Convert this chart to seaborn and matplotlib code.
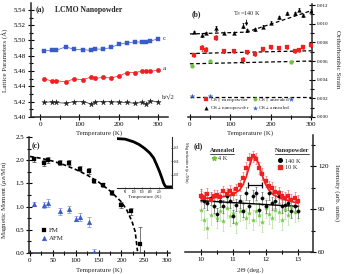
import matplotlib
matplotlib.use("Agg")
import matplotlib.pyplot as plt
from matplotlib.ticker import MultipleLocator
from matplotlib.lines import Line2D
import seaborn as sns

# ---------------- (a) lattice parameters ----------------
temp_a = [10, 30, 40, 65, 85, 110, 130, 140, 160, 180, 200, 220, 240, 260, 270, 280, 300]
lat_c = [5.4865, 5.4870, 5.4870, 5.4917, 5.4887, 5.4880, 5.4870, 5.4890, 5.4885, 5.4910,
         5.4950, 5.4970, 5.4980, 5.4980, 5.4982, 5.4995, 5.5020]
lat_a = [5.4500, 5.4470, 5.4474, 5.4460, 5.4496, 5.4490, 5.4522, 5.4504, 5.4517, 5.4510,
         5.4535, 5.4580, 5.4580, 5.4600, 5.4600, 5.4596, 5.4613]
lat_b = [5.4190, 5.4200, 5.4190, 5.4180, 5.4200, 5.4200, 5.4170, 5.4200, 5.4200, 5.4200,
         5.4195, 5.4190, 5.4180, 5.4190, 5.4170, 5.4210, 5.4200]

# ---------------- (b) orthorhombic strain ----------------
os_par = [0.0066, 0.0074, 0.0072, 0.0085, 0.0071, 0.0071, 0.0061, 0.0070, 0.0067, 0.0073,
          0.0075, 0.0074, 0.0075, 0.0071, 0.0072, 0.0075, 0.0077]
os_par_err = [0.0002, 0.0003, 0.0003, 0.0003, 0.0002, 0.0002, 0.0003, 0.0002, 0.0002, 0.0002,
              0.0002, 0.0002, 0.0002, 0.0002, 0.0002, 0.0002, 0.0002]
os_perp = [0.0091, 0.0088, 0.0090, 0.0095, 0.0090, 0.0090, 0.0098, 0.0093, 0.0094, 0.0097,
           0.0101, 0.0107, 0.0111, 0.0111, 0.0115, 0.0109, 0.0114]
os_perp_err = [0.00015, 0.0002, 0.00015, 0.0003, 0.00015, 0.00015, 0.0003, 0.00015, 0.00015,
               0.00015, 0.00015, 0.00015, 0.00015, 0.00015, 0.00015, 0.00015, 0.00015]
temp_ann = [5, 50, 250]
os_par_ann = [0.0055, 0.0060, 0.0059]
os_perp_ann = [0.0023, 0.0023, 0.0019]
fit_perp_t = [0, 140, 300]
fit_perp = [0.0089, 0.0091, 0.0114]
fit_par_t = [0, 300]
fit_par = [0.0068, 0.0071]
fit_par_ann = [0.0057, 0.0060]
fit_perp_ann = [0.0021, 0.0021]

# ---------------- (c) magnetic moment ----------------
temp_fm = [10, 30, 40, 65, 85, 110, 130, 140, 160, 180, 200, 220, 240]
mom_fm = [2.02, 1.94, 2.01, 1.95, 1.95, 1.82, 1.77, 1.55, 1.47, 1.30, 1.04, 0.90, 0.20]
err_fm = [0.05, 0.07, 0.06, 0.06, 0.06, 0.06, 0.07, 0.04, 0.04, 0.05, 0.06, 0.08, 0.35]
temp_afm = [10, 30, 40, 65, 85, 100, 110, 130, 140]
mom_afm = [1.05, 1.03, 1.08, 0.90, 0.94, 0.74, 0.78, 0.66, 0.02]
err_afm = [0.04, 0.06, 0.08, 0.08, 0.07, 0.06, 0.08, 0.11, 0.06]
fit_c_t = [0, 25, 50, 75, 100, 125, 150, 175, 200, 212, 223, 230, 235]
fit_c_m = [2.08, 2.04, 1.98, 1.90, 1.80, 1.68, 1.53, 1.34, 1.10, 0.92, 0.68, 0.46, 0.04]
inset_t = [0, 50, 100, 133, 165, 196, 220, 238, 255, 269, 280, 290, 300, 330]
inset_m = [0.184, 0.182, 0.172, 0.162, 0.148, 0.131, 0.112, 0.087, 0.062, 0.038, 0.018,
           0.006, 0.004, 0.004]

# ---------------- (d) neutron intensity ----------------
two_theta = [10.0, 10.1, 10.2, 10.3, 10.4, 10.5, 10.6, 10.7, 10.8, 10.9, 11.0, 11.1, 11.2,
             11.3, 11.4, 11.5, 11.6, 11.7, 11.8, 11.9, 12.0, 12.1, 12.2, 12.3, 12.4, 12.5,
             12.6, 12.7, 12.8, 12.9, 13.0]
int_10k = [99.0, 97.8, 100.6, 96.7, 99.5, 99.7, 98.3, 102.5, 101.0, 103.0, 100.6, 104.0,
           106.7, 111.8, 118.8, 125.4, 127.0, 125.4, 118.8, 114.6, 109.5, 106.0, 104.8,
           102.0, 101.3, 99.0, 97.8, 99.5, 96.7, 97.8, 96.0]
int_140k = [100.0, 95.5, 94.3, 97.8, 92.0, 86.6, 96.0, 92.0, 99.0, 95.5, 85.0, 93.0, 95.5,
            89.0, 101.3, 92.0, 99.0, 101.3, 89.6, 97.8, 92.0, 101.3, 94.3, 95.5, 99.0, 92.0,
            93.0, 94.3, 88.5, 92.0, 88.5]
int_4k = [89.6, 82.6, 76.8, 86.0, 92.0, 83.8, 89.0, 81.5, 90.8, 85.0, 87.3, 80.3, 88.5,
          89.6, 83.8, 87.3, 82.6, 89.0, 86.0, 81.0, 90.8, 86.6, 83.8, 89.6, 88.0, 82.6,
          90.3, 86.0, 91.3, 88.0, 88.5]
fit_10k_x = [10.0, 10.5, 10.8, 11.0, 11.2, 11.3, 11.4, 11.5, 11.6, 11.65, 11.7, 11.8, 11.9,
             12.0, 12.1, 12.25, 12.5, 13.0]
fit_10k = [97.4, 98.3, 99.3, 100.5, 103.5, 107.0, 112.5, 120.0, 127.0, 127.7, 126.5, 121.0,
           113.5, 107.5, 103.5, 100.0, 97.3, 94.3]
fit_140k_x = [10.0, 13.0]
fit_140k = [96.0, 92.0]
resolution = [11.45, 11.9]

RED = "#ee2020"
BLUE = "#3a5cc8"
GREEN = "#6cc83a"

sns.set_theme(style="ticks")
plt.rcParams["font.family"] = ["Liberation Serif", "DejaVu Serif"]
plt.rcParams["mathtext.fontset"] = "stix"
FS = 5


def style(ax, right=False):
    ax.set_facecolor("none")
    ax.spines["top"].set_visible(False)
    if right:
        ax.spines["left"].set_visible(False)
        ax.yaxis.tick_right()
        ax.yaxis.set_label_position("right")
    else:
        ax.spines["right"].set_visible(False)
    for s in ax.spines.values():
        s.set_linewidth(1.1)
    ax.tick_params(which="both", direction="inout", width=0.8, labelsize=FS, pad=1.5,
                   colors="black")
    ax.tick_params(which="major", length=4)
    ax.tick_params(which="minor", length=2.5)


def errs(ax, x, y, e, c, cap=1.2):
    ax.errorbar(x, y, yerr=e, fmt="none", ecolor=c, elinewidth=0.5, capsize=cap,
                capthick=0.5, zorder=2)


def line(ax, x, y, color, lw, ls="-"):
    ax.plot(x, y, color=color, lw=lw, linestyle=ls, zorder=2.5)


DASH = (0, (3, 2))

fig = plt.figure(figsize=(3.46, 2.74), dpi=100)

# ---- panel (a)
ax = fig.add_axes([0.0896, 0.573, 0.396, 0.416])
style(ax)
for vals, col, mk, sz in [(lat_c, BLUE, "s", 9), (lat_a, RED, "o", 10), (lat_b, "#222222", "*", 16)]:
    line(ax, temp_a, vals, col, 0.5)
    sns.scatterplot(x=temp_a, y=vals, ax=ax, color=col, marker=mk, s=sz, edgecolor=col,
                    linewidth=0.3, zorder=3)
ax.set_xlim(-23, 325)
ax.set_ylim(5.40, 5.549)
ax.xaxis.set_major_locator(MultipleLocator(100))
ax.xaxis.set_minor_locator(MultipleLocator(50))
ax.set_yticks([5.40, 5.42, 5.44, 5.46, 5.48, 5.50, 5.52, 5.54])
ax.set_yticklabels(["5.40", "5.42", "5.44", "5.46", "5.48", "5.50", "5.52", "5.54"])
ax.yaxis.set_minor_locator(MultipleLocator(0.01))
ax.set_xlabel("Temperature (K)", fontsize=FS)
ax.set_ylabel("Lattice Parameters (Å)", fontsize=FS)
ax.xaxis.set_label_coords(0.5, -0.115)
ax.yaxis.set_label_coords(-0.17, 0.5)
ax.text(0, 5.54, "(a)", fontsize=5.5, fontweight="bold", ha="center", va="center")
ax.text(38, 5.54, "LCMO Nanopowder", fontsize=5.5, fontweight="bold", ha="left", va="center")
ax.text(311, 5.503, "c", fontsize=FS, ha="left", va="center")
ax.text(311, 5.464, "a", fontsize=FS, ha="left", va="center")
ax.text(309, 5.426, "b/√2", fontsize=FS, ha="left", va="center")

# ---- panel (b)
ax = fig.add_axes([0.543, 0.573, 0.358, 0.412])
style(ax, right=True)
line(ax, fit_perp_t, fit_perp, "black", 0.9, DASH)
line(ax, fit_par_t, fit_par, "black", 0.9, DASH)
line(ax, fit_par_t, fit_par_ann, "black", 0.9, DASH)
line(ax, fit_par_t, fit_perp_ann, "black", 0.9, DASH)
errs(ax, temp_a, os_par, os_par_err, RED, cap=1.0)
errs(ax, temp_a, os_perp, os_perp_err, "black", cap=1.0)
sns.scatterplot(x=temp_a, y=os_par, ax=ax, color=RED, marker="s", s=7, edgecolor=RED,
                linewidth=0.2, zorder=3, label=r"OS$_{\parallel}$ nanopowder")
sns.scatterplot(x=temp_a, y=os_perp, ax=ax, color="black", marker="^", s=8, edgecolor="black",
                linewidth=0.2, zorder=3, label=r"OS$_{\perp}$ nanopowder")
sns.scatterplot(x=temp_ann, y=os_par_ann, ax=ax, color=GREEN, marker="o", s=8, edgecolor=GREEN,
                linewidth=0.2, zorder=3, label=r"OS$_{\parallel}$ annealed")
sns.scatterplot(x=temp_ann, y=os_perp_ann, ax=ax, color=BLUE, marker="*", s=12, edgecolor=BLUE,
                linewidth=0.2, zorder=3, label=r"OS$_{\perp}$ annealed")
ax.set_xlim(-5, 301)
ax.set_ylim(0, 0.0121)
ax.xaxis.set_major_locator(MultipleLocator(100))
ax.xaxis.set_minor_locator(MultipleLocator(50))
ax.set_yticks([0, 0.002, 0.004, 0.006, 0.008, 0.010, 0.012])
ax.set_yticklabels(["0.000", "0.002", "0.004", "0.006", "0.008", "0.010", "0.012"], fontsize=3.6)
ax.yaxis.set_minor_locator(MultipleLocator(0.001))
ax.set_xlabel("Temperature (K)", fontsize=FS)
ax.set_ylabel("Orthorhombic Strain", fontsize=FS, rotation=270)
ax.xaxis.set_label_coords(0.5, -0.12)
ax.yaxis.set_label_coords(1.225, 0.51)
ax.text(17, 0.0110, "(b)", fontsize=5.5, fontweight="bold", ha="center", va="center")
ax.text(140, 0.01105, r"T$_N$=140 K", fontsize=4.5, ha="center", va="center")
ax.annotate("", xy=(140, 0.00945), xytext=(140, 0.0107),
            arrowprops=dict(arrowstyle="-|>", lw=0.6, color="black", mutation_scale=4))
ax.legend(ncol=2, fontsize=3.8, frameon=False, loc="center", bbox_to_anchor=(0.48, 0.115),
          handletextpad=0.1, columnspacing=0.6, labelspacing=0.1, markerscale=0.9,
          borderpad=0.1, handlelength=1.0)

# ---- panel (c)
ax = fig.add_axes([0.0838, 0.0766, 0.4075, 0.4234])
style(ax)
line(ax, fit_c_t, fit_c_m, "black", 1.2, (0, (2.5, 1.5)))
errs(ax, temp_fm, mom_fm, err_fm, "#444444")
errs(ax, temp_afm, mom_afm, err_afm, "#7a90d8")
sns.scatterplot(x=temp_fm, y=mom_fm, ax=ax, color="black", marker="s", s=11, edgecolor="black",
                linewidth=0.2, zorder=3, label="FM")
sns.scatterplot(x=temp_afm, y=mom_afm, ax=ax, color=BLUE, marker="^", s=12, edgecolor=BLUE,
                linewidth=0.2, zorder=3, label="AFM")
ax.set_xlim(-2, 306)
ax.set_ylim(0, 2.5)
ax.xaxis.set_major_locator(MultipleLocator(50))
ax.xaxis.set_minor_locator(MultipleLocator(25))
ax.yaxis.set_major_locator(MultipleLocator(0.5))
ax.yaxis.set_minor_locator(MultipleLocator(0.25))
ax.set_xlabel("Temperature (K)", fontsize=FS)
ax.set_ylabel(r"Magnetic Moment ($\mu_B$/Mn)", fontsize=FS)
ax.xaxis.set_label_coords(0.5, -0.125)
ax.yaxis.set_label_coords(-0.14, 0.46)
ax.text(12, 2.31, "(c)", fontsize=5.5, fontweight="bold", ha="center", va="center")
ax.legend(fontsize=FS, frameon=False, loc="center left", bbox_to_anchor=(0.05, 0.165),
          handletextpad=0.2, labelspacing=0.3, borderpad=0.1, handlelength=1.0)

# inset
ins = fig.add_axes([0.338, 0.314, 0.159, 0.186])
style(ins, right=True)
ins.spines["left"].set_visible(False)
for s in ins.spines.values():
    s.set_linewidth(0.8)
line(ins, inset_t, inset_m, "black", 2.0)
ins.set_xlim(0, 330)
ins.set_ylim(0, 0.19)
ins.set_xticks([50, 100, 150, 200, 250])
ins.set_yticks([0.05, 0.10, 0.15])
ins.tick_params(which="both", labelsize=2.2, length=1.5, width=0.4, pad=0.6)
ins.set_xlabel("Temperature (K)", fontsize=3.6, labelpad=0.5)
ins.set_ylabel(r"Magnetization ($\mu_B$/Mn)", fontsize=3.2, rotation=270)
ins.yaxis.set_label_coords(1.32, 0.5)

# ---- panel (d)
ax = fig.add_axes([0.535, 0.080, 0.37, 0.427])
style(ax, right=True)
errs(ax, two_theta, int_4k, 7.0, "#b5e0a0", cap=0.8)
errs(ax, two_theta, int_140k, 4.5, "#666666", cap=0.8)
errs(ax, two_theta, int_10k, 4.0, "#f07070", cap=0.8)
sns.scatterplot(x=two_theta, y=int_4k, ax=ax, color=GREEN, marker="*", s=10, edgecolor=GREEN,
                linewidth=0.2, zorder=3)
sns.scatterplot(x=two_theta, y=int_140k, ax=ax, color="black", marker="o", s=6,
                edgecolor="black", linewidth=0.2, zorder=3)
sns.scatterplot(x=two_theta, y=int_10k, ax=ax, color=RED, marker="s", s=6, edgecolor=RED,
                linewidth=0.2, zorder=3)
line(ax, fit_140k_x, fit_140k, "black", 1.0)
line(ax, fit_10k_x, fit_10k, RED, 1.2)
ax.errorbar([sum(resolution) / 2], [107], xerr=[(resolution[1] - resolution[0]) / 2],
            fmt="none", ecolor="black", elinewidth=0.9, capsize=2, capthick=0.9, zorder=4)
ax.set_xlim(9.514, 13.47)
ax.set_ylim(60, 142)
ax.xaxis.set_major_locator(MultipleLocator(1))
ax.xaxis.set_minor_locator(MultipleLocator(0.5))
ax.yaxis.set_major_locator(MultipleLocator(30))
ax.yaxis.set_minor_locator(MultipleLocator(15))
ax.set_xlabel("2Θ (deg.)", fontsize=FS)
ax.set_ylabel("Intensity (arb. units)", fontsize=FS, rotation=270)
ax.xaxis.set_label_coords(0.51, -0.13)
ax.yaxis.set_label_coords(1.21, 0.51)
ax.text(0.10, 0.906, "(d)", transform=ax.transAxes, fontsize=5.5, fontweight="bold",
        ha="center", va="center")
ax.text(0.29, 0.87, "Annealed", transform=ax.transAxes, fontsize=4.5, fontweight="bold",
        ha="center", va="center")
ax.plot([0.195, 0.385], [0.842, 0.842], transform=ax.transAxes, color="black", lw=0.5)
ax.text(0.835, 0.87, "Nanopowder", transform=ax.transAxes, fontsize=4.5, fontweight="bold",
        ha="center", va="center")
ax.plot([0.705, 0.965], [0.842, 0.842], transform=ax.transAxes, color="black", lw=0.5)
h_4k = Line2D([], [], color=GREEN, marker="*", ls="none", ms=3.5)
h_140 = Line2D([], [], color="black", marker="o", ls="none", ms=2.6)
h_10 = Line2D([], [], color=RED, marker="s", ls="none", ms=2.6)
leg1 = ax.legend([h_4k], ["4 K"], fontsize=4.5, frameon=False, loc="center left",
                 bbox_to_anchor=(0.17, 0.80), handletextpad=0.2, borderpad=0.1,
                 handlelength=1.0)
ax.add_artist(leg1)
ax.legend([h_140, h_10], ["140 K", "10 K"], fontsize=4.5, frameon=False, loc="upper left",
          bbox_to_anchor=(0.69, 0.835), handletextpad=0.2, borderpad=0.1, labelspacing=0.15,
          handlelength=1.0)

fig.savefig("out.png", dpi=100)
